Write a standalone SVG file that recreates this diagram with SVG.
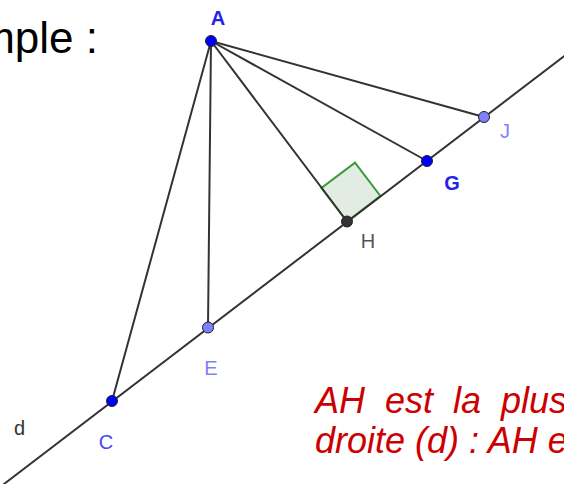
<svg xmlns="http://www.w3.org/2000/svg" width="564" height="484" viewBox="0 0 564 484">
<style>
.seg{stroke:#333;stroke-width:2;fill:none;stroke-linecap:round}
.pt{stroke:#222;stroke-width:1}
.dark{fill:#0000ff}
.light{fill:#7f7fff}
.lbl{font-family:"Liberation Sans",Arial,sans-serif;font-size:20px;text-anchor:middle}
.red{font-family:"Liberation Sans",Arial,sans-serif;font-size:36px;font-style:italic;fill:#cc0000}
</style>
<rect width="564" height="484" fill="#ffffff"/>
<text x="98" y="53" font-family="Liberation Sans, Arial, sans-serif" font-size="44" fill="#000" text-anchor="end">Exemple :</text>
<g id="rightangle">
<polygon points="347,221.5 380.4,196 355,162.6 321.5,188" fill="#e3ece3" stroke="#3a9a3a" stroke-width="2"/>
</g>
<g id="connectors">
<line class="seg" x1="4" y1="484" x2="570" y2="51.6"/>
<line class="seg" x1="211" y1="41" x2="112" y2="401"/>
<line class="seg" x1="211" y1="41" x2="208" y2="327"/>
<line class="seg" x1="211" y1="41" x2="347" y2="221.5"/>
<line class="seg" x1="211" y1="41" x2="427" y2="161"/>
<line class="seg" x1="211" y1="41" x2="484" y2="117"/>
</g>
<g id="A"><circle class="pt dark" cx="211" cy="41" r="5.5"/><text class="lbl" x="218" y="25" fill="#2323e6" font-weight="bold">A</text></g>
<g id="C"><circle class="pt dark" cx="112" cy="401" r="5.5"/><text class="lbl" x="106" y="449" fill="#4545ff">C</text></g>
<g id="E"><circle class="pt light" cx="208" cy="327.5" r="5.5"/><text class="lbl" x="211" y="375" fill="#8080ff">E</text></g>
<g id="H"><circle cx="347" cy="221.5" r="5.5" fill="#333" stroke="#222" stroke-width="1"/><text class="lbl" x="368" y="248" fill="#555">H</text></g>
<g id="G"><circle class="pt dark" cx="427" cy="161" r="5.5"/><text class="lbl" x="452" y="190" fill="#2323e6" font-weight="bold">G</text></g>
<g id="J"><circle class="pt light" cx="484" cy="117" r="5.5"/><text class="lbl" x="505" y="138" fill="#8080ff">J</text></g>
<g id="d"><text class="lbl" x="19.5" y="435" fill="#333">d</text></g>
<text class="red" x="315" y="413" word-spacing="10">AH est la plus</text>
<text class="red" x="315" y="453">droite (d) : AH e</text>
</svg>
